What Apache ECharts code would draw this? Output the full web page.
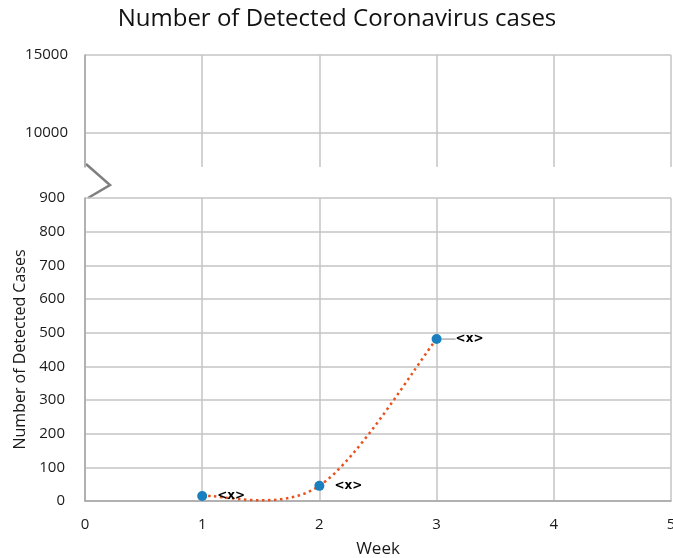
<!DOCTYPE html>
<html>
<head>
<meta charset="utf-8">
<script src="https://cdn.jsdelivr.net/npm/echarts@6/dist/echarts.min.js"></script>
<style>html,body{margin:0;padding:0;background:#fff}#c{width:673px;height:558px}</style>
</head>
<body>
<div id="c"></div>
<script>
var titleText = 'Number of Detected Coronavirus cases';
var weeks = [1, 2, 3];
var cases = [15, 45, 481];
var pointLabels = ['<x>', '<x>', '<x>'];
var xTicks = [0, 1, 2, 3, 4, 5];
var upperTicks = [10000, 15000];
var lowerMax = 900;
var xName = 'Week';
var yName = 'Number of Detected Cases';

var gridColor = '#c4c4c4';
var axisColor = '#a6a6a6';
var labelColor = '#1a1a1a';
var font = 'Open Sans, Liberation Sans, sans-serif';

var chart = echarts.init(document.getElementById('c'), null, {renderer: 'canvas'});

var pointData = weeks.map(function (w, i) {
  return {
    value: [w, cases[i]],
    label: {formatter: pointLabels[i]},
    labelLine: {show: i === 2}
  };
});
var curveData = weeks.map(function (w, i) { return [w, cases[i]]; });

// Smoothed (Catmull-Rom style) curve through the data points, in pixel space from the axes
function renderCurve(params, api) {
  if (params.dataIndex !== 0) return null;
  var pts = curveData.map(function (d) { return api.coord(d); });
  var n = pts.length;
  var path = 'M' + pts[0][0] + ' ' + pts[0][1];
  for (var i = 0; i < n - 1; i++) {
    var p0 = pts[Math.max(i - 1, 0)], p1 = pts[i], p2 = pts[i + 1], p3 = pts[Math.min(i + 2, n - 1)];
    var c1x = p1[0] + (p2[0] - p0[0]) / 6, c1y = p1[1] + (p2[1] - p0[1]) / 6;
    var c2x = p2[0] - (p3[0] - p1[0]) / 6, c2y = p2[1] - (p3[1] - p1[1]) / 6;
    path += ' C' + c1x + ' ' + c1y + ' ' + c2x + ' ' + c2y + ' ' + p2[0] + ' ' + p2[1];
  }
  return {
    type: 'path',
    shape: {pathData: path},
    style: {fill: null, stroke: '#e8521c', lineWidth: 2.5, lineDash: [2.5, 3.5], lineCap: 'butt'}
  };
}

var option = {
  animation: false,
  backgroundColor: '#fff',
  title: {
    text: titleText,
    left: 332,
    textAlign: 'center',
    top: 2,
    textStyle: {fontFamily: font, fontSize: 24, fontWeight: 'normal', color: '#111'}
  },
  grid: [
    {left: 85, right: 2, top: 55, height: 112, containLabel: false, outerBoundsMode: 'none'},
    {left: 85, right: 2, top: 198, bottom: 57, containLabel: false, outerBoundsMode: 'none'}
  ],
  xAxis: [
    {
      gridIndex: 0, type: 'value', min: xTicks[0], max: xTicks[xTicks.length - 1], interval: 1,
      axisLine: {show: false}, axisTick: {show: false}, axisLabel: {show: false},
      splitLine: {show: true, lineStyle: {color: gridColor, width: 1.5}}
    },
    {
      gridIndex: 1, type: 'value', min: xTicks[0], max: xTicks[xTicks.length - 1], interval: 1,
      name: xName, nameLocation: 'middle', nameGap: 40,
      nameTextStyle: {fontFamily: font, fontSize: 17, color: labelColor},
      axisLine: {show: true, onZero: false, lineStyle: {color: axisColor, width: 1.5}},
      axisTick: {show: false},
      axisLabel: {fontFamily: font, fontSize: 15, color: labelColor, margin: 16},
      splitLine: {show: true, lineStyle: {color: gridColor, width: 1.5}}
    }
  ],
  yAxis: [
    {
      gridIndex: 0, type: 'value', min: 7820, max: upperTicks[upperTicks.length - 1],
      axisLine: {show: true, lineStyle: {color: axisColor, width: 1.5}},
      axisTick: {show: false, customValues: upperTicks},
      axisLabel: {fontFamily: font, fontSize: 15, color: labelColor, margin: 17,
        customValues: upperTicks, formatter: function (v) { return String(v); }},
      splitLine: {show: true, lineStyle: {color: gridColor, width: 1.5}}
    },
    {
      gridIndex: 1, type: 'value', min: 0, max: lowerMax, interval: 100,
      name: yName, nameLocation: 'middle', nameGap: 57,
      nameTextStyle: {fontFamily: 'Liberation Sans Narrow, Open Sans, sans-serif', fontSize: 16, color: labelColor},
      axisLine: {show: true, lineStyle: {color: axisColor, width: 1.5}},
      axisTick: {show: false},
      axisLabel: {fontFamily: font, fontSize: 15, color: labelColor, margin: 20},
      splitLine: {show: true, lineStyle: {color: gridColor, width: 1.5}}
    }
  ],
  series: [
    {
      type: 'custom',
      xAxisIndex: 1, yAxisIndex: 1,
      data: curveData,
      renderItem: renderCurve,
      silent: true,
      z: 2
    },
    {
      type: 'scatter',
      xAxisIndex: 1, yAxisIndex: 1,
      data: pointData,
      symbol: 'circle',
      symbolSize: 10,
      itemStyle: {color: '#1a7fbf', opacity: 1},
      z: 3,
      label: {
        show: true, position: 'right', distance: 10,
        fontFamily: 'DejaVu Sans, sans-serif', fontSize: 12, fontWeight: 'bold', color: '#000'
      },
      labelLayout: function (p) { return p.dataIndex === 2 ? {dx: 4} : {}; },
      labelLine: {lineStyle: {color: '#888', width: 1}}
    }
  ],
  graphic: [
    {
      type: 'polyline',
      shape: {points: [[86, 164], [110, 185], [88, 198]]},
      style: {stroke: '#7f7f7f', lineWidth: 2.5, fill: null}
    }
  ]
};
chart.setOption(option);
</script>
</body>
</html>
